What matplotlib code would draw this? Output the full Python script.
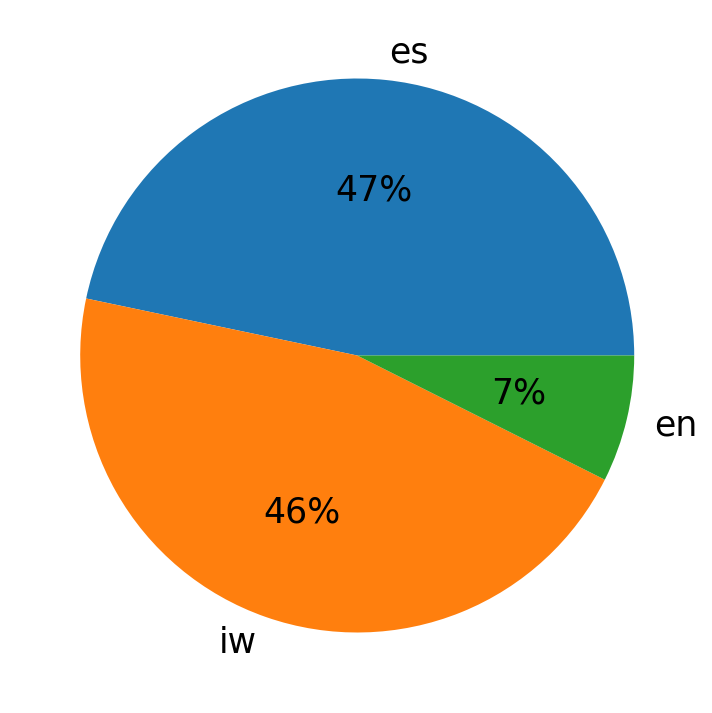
import matplotlib
matplotlib.use("Agg")
import matplotlib.pyplot as plt

labels = ["es", "iw", "en"]
shares = [46.7, 45.9, 7.4]

fig = plt.figure(figsize=(7.12, 7.13), dpi=100)
ax = fig.add_axes([0.0154, 0.0154, 0.9726, 0.972])
ax.pie(shares, labels=labels, autopct="%1.0f%%", textprops={"fontsize": 25})

fig.savefig("out.png", dpi=100)
